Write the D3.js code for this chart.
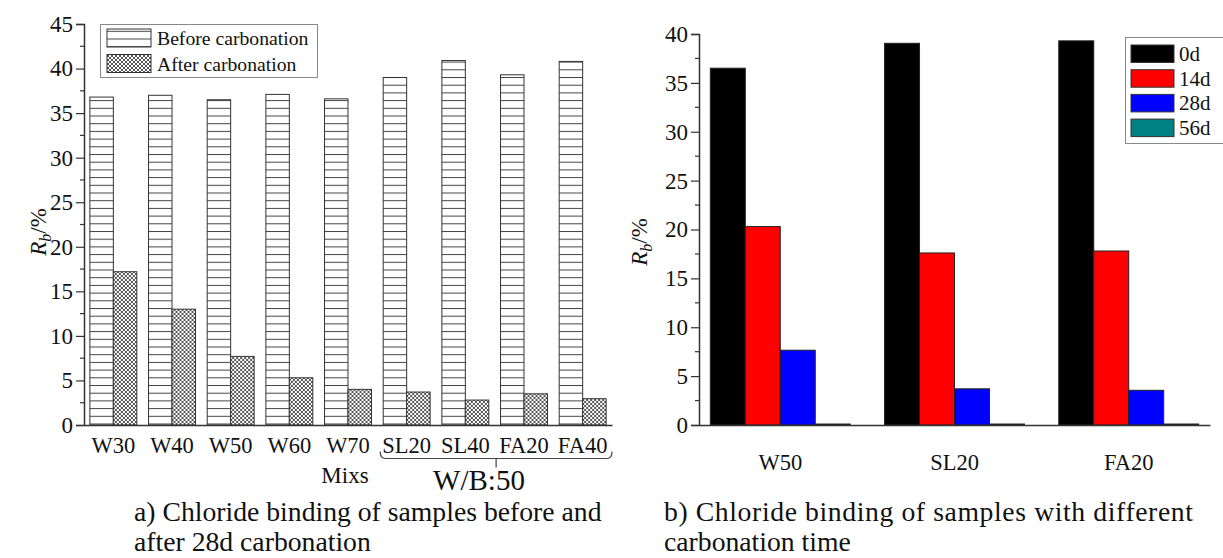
<!DOCTYPE html>
<html>
<head>
<meta charset="utf-8">
<script src="https://cdn.jsdelivr.net/npm/d3@7"></script>
<style>
  html, body { margin: 0; padding: 0; background: #fff; }
  svg { display: block; }
  text { font-family: "Liberation Serif", "Times New Roman", serif; fill: #111; }
</style>
</head>
<body>
<svg id="chart" width="1223" height="558"></svg>
<script>
// ---------- data: panel a ----------
const mixes = ["W30", "W40", "W50", "W60", "W70", "SL20", "SL40", "FA20", "FA40"];
const beforeCarb = [36.8, 37.0, 36.5, 37.1, 36.6, 39.0, 40.9, 39.3, 40.8];
const afterCarb = [17.2, 13.0, 7.7, 5.3, 4.0, 3.7, 2.8, 3.5, 2.95];
const seriesA = ["Before carbonation", "After carbonation"];
const yTicksA = [0, 5, 10, 15, 20, 25, 30, 35, 40, 45];

// ---------- data: panel b ----------
const samplesB = ["W50", "SL20", "FA20"];
const timesB = ["0d", "14d", "28d", "56d"];
const d0 = [36.5, 39.05, 39.3];
const d14 = [20.3, 17.6, 17.8];
const d28 = [7.65, 3.7, 3.55];
const d56 = [0.1, 0.1, 0.1];
const colorsB = ["#000000", "#ff0000", "#0000ff", "#008080"];
const yTicksB = [0, 5, 10, 15, 20, 25, 30, 35, 40];

const svg = d3.select("#chart");
const defs = svg.append("defs");

// hatch patterns
const pH = defs.append("pattern").attr("id", "hlines")
  .attr("patternUnits", "userSpaceOnUse").attr("width", 8).attr("height", 7.7);
pH.append("rect").attr("width", 8).attr("height", 7.7).attr("fill", "#fff");
pH.append("line").attr("x1", 0).attr("x2", 8).attr("y1", 0.5).attr("y2", 0.5)
  .attr("stroke", "#444").attr("stroke-width", 1);

const pX = defs.append("pattern").attr("id", "xhatch")
  .attr("patternUnits", "userSpaceOnUse").attr("width", 4).attr("height", 4);
pX.append("rect").attr("width", 4).attr("height", 4).attr("fill", "#fff");
pX.append("path").attr("d", "M0,0 L4,4 M4,0 L0,4")
  .attr("stroke", "#555").attr("stroke-width", 1);

const fillsA = ["url(#hlines)", "url(#xhatch)"];

// ================= Panel a =================
const axA = { left: 84, right: 612, top: 24, bottom: 425 };
const xA = d3.scaleBand().domain(mixes).range([axA.left, axA.right])
  .paddingInner(0.2).paddingOuter(0.1);
const xAin = d3.scaleBand().domain(seriesA).range([0, xA.bandwidth()]);
const yA = d3.scaleLinear().domain([0, 45]).range([axA.bottom, axA.top]);

const gA = svg.append("g");
const rowsA = mixes.map((m, i) => ({ m, vals: [beforeCarb[i], afterCarb[i]] }));
gA.selectAll("g.grp").data(rowsA).join("g")
  .attr("transform", d => `translate(${xA(d.m)},0)`)
  .selectAll("rect").data(d => d.vals.map((v, j) => ({ v, s: seriesA[j], j })))
  .join("rect")
  .attr("x", d => xAin(d.s))
  .attr("width", xAin.bandwidth())
  .attr("y", d => yA(d.v))
  .attr("height", d => yA(0) - yA(d.v))
  .attr("fill", d => fillsA[d.j])
  .attr("stroke", "#333").attr("stroke-width", 1);

// y axis a
const yAxisA = d3.axisLeft(yA).tickValues(yTicksA).tickSize(8).tickPadding(3);
const gyA = gA.append("g").attr("transform", `translate(${axA.left},0)`).call(yAxisA);
gyA.select(".domain").attr("stroke", "#333").attr("stroke-width", 1.5);
gyA.selectAll(".tick line").attr("stroke", "#333").attr("stroke-width", 1.2);
gyA.selectAll(".tick text").style("font-family", "Liberation Serif").style("font-size", "23px").attr("fill", "#111");
const minorA = d3.range(2.5, 45, 5);
gA.selectAll("line.minA").data(minorA).join("line")
  .attr("x1", axA.left - 4).attr("x2", axA.left)
  .attr("y1", d => yA(d)).attr("y2", d => yA(d))
  .attr("stroke", "#333").attr("stroke-width", 1.2);

// x axis a
const xAxisA = d3.axisBottom(xA).tickSize(0).tickPadding(12);
const gxA = gA.append("g").attr("transform", `translate(0,${axA.bottom})`).call(xAxisA);
gxA.select(".domain").attr("stroke", "#333").attr("stroke-width", 1.5);
gxA.selectAll(".tick text").style("font-family", "Liberation Serif").style("font-size", "22.5px").attr("fill", "#111");

// brace for W/B:50
const bx0 = xA("SL20") - 3, bx1 = axA.right, by = 458.5;
const bmid = (bx0 + bx1) / 2;
gA.append("path")
  .attr("d", `M${bx0},${by - 7} Q${bx0},${by} ${bx0 + 5},${by} L${bx1 - 5},${by} Q${bx1},${by} ${bx1},${by - 7} M${bmid},${by} L${bmid},${by + 9}`)
  .attr("fill", "none").attr("stroke", "#444").attr("stroke-width", 1.2);

gA.append("text").attr("x", 345).attr("y", 483).attr("text-anchor", "middle")
  .style("font-size", "23px").text("Mixs");
gA.append("text").attr("x", 479).attr("y", 490).attr("text-anchor", "middle")
  .style("font-size", "29px").text("W/B:50");

// y title a
const ytA = gA.append("text").attr("transform", "translate(46,232) rotate(-90)")
  .attr("text-anchor", "middle").style("font-size", "23px");
ytA.append("tspan").style("font-style", "italic").text("R");
ytA.append("tspan").style("font-style", "italic").style("font-size", "16px").attr("dy", 5).text("b");
ytA.append("tspan").attr("dy", -5).text("/%");

// legend a
const legA = gA.append("g");
legA.append("rect").attr("x", 100.5).attr("y", 24.5).attr("width", 217).attr("height", 53)
  .attr("fill", "#fff").attr("stroke", "#888").attr("stroke-width", 1);
seriesA.forEach((s, i) => {
  legA.append("rect").attr("x", 107).attr("y", 29 + i * 25.5).attr("width", 44).attr("height", 18)
    .attr("fill", fillsA[i]).attr("stroke", "#333").attr("stroke-width", 1);
  legA.append("text").attr("x", 157).attr("y", 45 + i * 25.5).style("font-size", "19.7px").text(s);
});

// caption a
const capA = gA.append("text").style("font-size", "27.7px");
capA.append("tspan").attr("x", 134).attr("y", 521).text("a) Chloride binding of samples before and");
capA.append("tspan").attr("x", 134).attr("y", 551).text("after 28d carbonation");

// ================= Panel b =================
const axB = { left: 699, right: 1210, top: 34, bottom: 425 };
const xB = d3.scaleBand().domain(samplesB).range([axB.left, axB.right])
  .paddingInner(0.197).paddingOuter(0.065);
const xBin = d3.scaleBand().domain(timesB).range([0, xB.bandwidth()]);
const yB = d3.scaleLinear().domain([0, 40]).range([axB.bottom, axB.top]);

const gB = svg.append("g");
const rowsB = samplesB.map((s, i) => ({ s, vals: [d0[i], d14[i], d28[i], d56[i]] }));
gB.selectAll("g.grp").data(rowsB).join("g")
  .attr("transform", d => `translate(${xB(d.s)},0)`)
  .selectAll("rect").data(d => d.vals.map((v, j) => ({ v, t: timesB[j], j })))
  .join("rect")
  .attr("x", d => xBin(d.t))
  .attr("width", xBin.bandwidth())
  .attr("y", d => yB(d.v))
  .attr("height", d => yB(0) - yB(d.v))
  .attr("fill", d => colorsB[d.j])
  .attr("stroke", "#222").attr("stroke-width", 1);

const yAxisB = d3.axisLeft(yB).tickValues(yTicksB).tickSize(8).tickPadding(3);
const gyB = gB.append("g").attr("transform", `translate(${axB.left},0)`).call(yAxisB);
gyB.select(".domain").attr("stroke", "#333").attr("stroke-width", 1.5);
gyB.selectAll(".tick line").attr("stroke", "#333").attr("stroke-width", 1.2);
gyB.selectAll(".tick text").style("font-family", "Liberation Serif").style("font-size", "23px").attr("fill", "#111");
const minorB = d3.range(2.5, 40, 5);
gB.selectAll("line.minB").data(minorB).join("line")
  .attr("x1", axB.left - 4).attr("x2", axB.left)
  .attr("y1", d => yB(d)).attr("y2", d => yB(d))
  .attr("stroke", "#333").attr("stroke-width", 1.2);

const xAxisB = d3.axisBottom(xB).tickSize(0).tickPadding(29);
const gxB = gB.append("g").attr("transform", `translate(0,${axB.bottom})`).call(xAxisB);
gxB.select(".domain").attr("stroke", "#333").attr("stroke-width", 1.5);
gxB.selectAll(".tick text").style("font-family", "Liberation Serif").style("font-size", "22.5px").attr("fill", "#111");

const ytB = gB.append("text").attr("transform", "translate(647,242) rotate(-90)")
  .attr("text-anchor", "middle").style("font-size", "23px");
ytB.append("tspan").style("font-style", "italic").text("R");
ytB.append("tspan").style("font-style", "italic").style("font-size", "16px").attr("dy", 5).text("b");
ytB.append("tspan").attr("dy", -5).text("/%");

// legend b
const legB = gB.append("g");
legB.append("rect").attr("x", 1125.5).attr("y", 37.5).attr("width", 110).attr("height", 106)
  .attr("fill", "#fff").attr("stroke", "#888").attr("stroke-width", 1);
timesB.forEach((t, i) => {
  legB.append("rect").attr("x", 1131).attr("y", 45 + i * 24.7).attr("width", 43).attr("height", 17.5)
    .attr("fill", colorsB[i]).attr("stroke", "#333").attr("stroke-width", 1);
  legB.append("text").attr("x", 1179).attr("y", 61 + i * 24.7).style("font-size", "21px").text(t);
});

const capB = gB.append("text").style("font-size", "27.7px");
capB.append("tspan").attr("x", 664).attr("y", 521)
  .attr("textLength", 529).attr("lengthAdjust", "spacing")
  .text("b) Chloride binding of samples with different");
capB.append("tspan").attr("x", 664).attr("y", 551).text("carbonation time");
</script>
</body>
</html>
